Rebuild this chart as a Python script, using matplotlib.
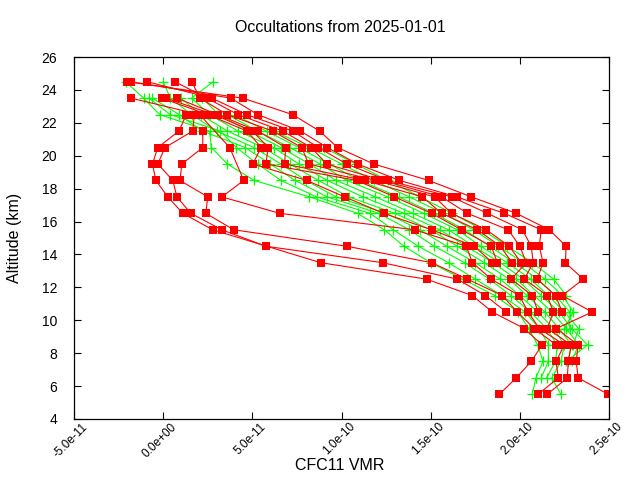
import numpy as np
import matplotlib
matplotlib.use('Agg')
import matplotlib.pyplot as plt
import matplotlib.transforms as mtransforms

nan = float('nan')

# altitude levels (km), same for every profile
alts = [24.5, 23.5, 22.5, 21.5, 20.5, 19.5, 18.5, 17.5, 16.5, 15.5,
        14.5, 13.5, 12.5, 11.5, 10.5, 9.5, 8.5, 7.5, 6.5, 5.5]

# red profiles, VMR in units of 1e-11
red_m1 = [-2.03, 4.46, 7.26, 8.77, 9.78, 11.8, 14.88, 17.28, 19.8, 21.65,
          22.6, 22.55, 23.56, 22.38, 24.06, 22.04, 23.27, 23.16, 23.27, 24.96]
red_m2 = [-1.81, 3.79, 5.3, 7.7, 9.2, 10.9, 13.25, 16.45, 19.13, 21.2,
          21.09, 21.3, 20.98, 22.0, 22.38, nan, nan, nan, nan, nan]
red_m3 = [-0.91, 2.73, 4.69, 7.26, 8.7, 10.29, 12.58, 16.17, 18.18, 20.14,
          20.64, 20.75, 20.25, 21.54, 21.88, 21.54, 22.88, 22.72, 22.66, 21.54]
red_m4 = [0.66, 2.45, 4.2, 6.7, 8.3, 9.17, 12.3, 15.61, 17.06, 19.35,
          20.0, 20.36, 19.52, 20.7, 21.03, nan, nan, nan, nan, nan]
red_m5 = [1.61, 2.05, 3.6, 6.14, 7.77, 8.16, 11.9, 15.22, 16.17, 18.12,
          19.4, 20.08, nan, nan, nan, nan, nan, nan, nan, nan]
red_m6 = [nan, 0.77, 3.06, 5.3, 6.87, 6.81, 11.3, 14.54, 15.61, 17.62,
          18.9, 19.57, nan, nan, nan, nan, nan, nan, nan, nan]
red_m7 = [nan, 0.15, 2.85, 5.0, 5.9, 5.75, 10.85, 12.97, 15.05, 16.73,
          18.4, 18.74, nan, nan, nan, nan, nan, nan, nan, nan]
red_m8 = [nan, -0.07, 2.5, 4.7, 5.5, 5.02, 8.05, 10.17, 12.36, 15.05,
          17.45, 18.46, nan, nan, nan, nan, nan, nan, nan, nan]
red_a = [nan, nan, 1.3, 0.88, -0.3, -0.6, -0.41, 0.26, 1.1, 2.78,
         nan, 8.83, 14.77, 17.34, 18.46, 20.25, 21.25, 20.64, 19.8, 18.85]
red_b = [nan, nan, 1.75, 1.66, 0.1, -0.3, 0.54, 0.77, 1.55, 3.29,
         5.75, 12.3, 16.5, 18.07, 19.24, nan, nan, nan, nan, nan]
red_c = [nan, nan, nan, 2.22, 2.22, 1.05, 0.94, 2.5, 2.39, 3.96,
         10.29, 15.05, 17.06, 19.02, 19.86, 20.81, 22.04, nan, nan, nan]
red_d = [nan, -1.81, 2.05, nan, 3.73, nan, 4.52, 3.29, 6.53, 14.1,
         17.0, 17.34, 18.4, 19.97, 20.47, 21.09, 22.49, 22.04, 22.15, 21.03]

# green profiles, VMR in units of 1e-11
green_1 = [-2.1, -1.1, -0.2, 2.6, 2.7, 3.6, 5.1, 8.2, 10.9, 12.4,
           13.5, 15.0, 16.8, 18.6, 19.9, 20.5, 21.0, 21.3, 20.9, 20.7]
green_2 = [nan, -0.8, 0.4, 3.2, 4.1, 5.3, 6.6, 8.6, 11.6, 12.9,
           14.3, 16.0, 17.5, 19.0, 20.3, 21.1, 21.6, 21.6, 21.2, nan]
green_3 = [nan, -0.6, 0.9, 2.2, 4.6, 6.0, 7.4, 9.2, 12.1, 13.8,
           15.2, 16.9, 18.3, 19.5, 20.6, 21.5, 22.1, 22.0, 21.5, nan]
green_4 = [0.0, 0.4, 1.6, 3.0, 5.1, 6.6, 8.0, 9.7, 12.5, 14.4,
           15.9, 17.5, 18.9, 20.0, 21.0, 21.9, 22.5, 22.3, 21.8, 22.3]
green_5 = [nan, 1.0, 2.1, 3.6, 5.6, 7.1, 8.7, 10.4, 13.0, 15.0,
           16.5, 18.0, 19.4, 20.4, 21.4, 22.2, 22.9, 22.7, nan, nan]
green_6 = [2.8, 1.6, 2.6, 4.2, 6.2, 7.6, 9.2, 11.2, 13.5, 15.5,
           17.0, 18.5, 19.8, 20.8, 21.8, 22.6, 23.3, 22.9, nan, nan]
green_7 = [nan, 2.2, 3.1, 4.8, 6.6, 8.2, 9.7, 11.9, 14.0, 16.0,
           17.4, 18.9, 20.2, 21.2, 22.2, 22.9, 23.8, 22.6, nan, nan]
green_8 = [nan, nan, 3.6, 5.3, 7.1, 8.8, 10.3, 12.6, 14.6, 16.5,
           17.8, 19.3, 20.6, 21.6, 22.5, 23.3, 23.0, nan, nan, nan]
green_9 = [nan, nan, 4.0, 5.8, 7.6, 9.3, 11.0, 13.2, 15.2, 16.9,
           18.3, 19.7, 21.0, 22.0, 22.8, 22.8, nan, nan, nan, nan]
green_10 = [nan, nan, nan, 6.2, 8.2, 10.0, 11.8, 13.8, 15.7, 17.4,
            18.8, 20.2, 21.4, 22.4, 23.0, 22.5, nan, nan, nan, nan]
green_11 = [nan, nan, nan, nan, 9.0, 10.8, 12.6, 14.4, 16.2, 17.9,
            19.3, 20.7, 21.9, 22.6, nan, nan, nan, nan, nan, nan]

red_profiles = [red_m1, red_m2, red_m3, red_m4, red_m5, red_m6, red_m7,
                red_m8, red_a, red_b, red_c, red_d]
green_profiles = [green_1, green_2, green_3, green_4, green_5, green_6,
                  green_7, green_8, green_9, green_10, green_11]

xticks = [-5e-11, 0, 5e-11, 1e-10, 1.5e-10, 2e-10, 2.5e-10]
yticks = [4, 6, 8, 10, 12, 14, 16, 18, 20, 22, 24, 26]

plt.rcParams['font.family'] = ['Liberation Sans', 'DejaVu Sans']

fig, ax = plt.subplots(figsize=(6.4, 4.8), dpi=100)
fig.subplots_adjust(left=74/640, right=609/640, bottom=1-419/480, top=1-57/480)

alt = np.array(alts)
for prof in green_profiles:
    x = np.array(prof) * 1e-11
    m = ~np.isnan(x)
    ax.plot(x[m], alt[m], color='#00ff00', lw=0.8, marker='+', ms=7.5, mew=0.9)
for prof in red_profiles:
    x = np.array(prof) * 1e-11
    m = ~np.isnan(x)
    ax.plot(x[m], alt[m], color='#ff0000', lw=0.8, marker='s', ms=5.5, mew=0)

ax.set_xlim(-5e-11, 2.5e-10)
ax.set_ylim(4, 26)
ax.set_xticks(xticks)
ax.set_yticks(yticks)
ax.set_xticklabels(['%.1e' % v for v in xticks], rotation=45, ha='right',
                   va='center', rotation_mode='anchor', fontsize=8.5)
ax.set_yticklabels([str(v) for v in yticks], fontsize=10)
ax.tick_params(direction='in', length=5, top=True, right=True, width=0.8)
ax.tick_params(axis='y', pad=12)
ax.tick_params(axis='x', pad=0)
# gnuplot style: right end of the rotated label sits right of the tick
offset = mtransforms.ScaledTranslation(12/100, -6/100, fig.dpi_scale_trans)
for lab in ax.get_xticklabels():
    lab.set_transform(lab.get_transform() + offset)
for s in ax.spines.values():
    s.set_linewidth(0.9)

fig.text(340/640, 1-27/480, 'Occultations from 2025-01-01', ha='center',
         va='center', fontsize=11.5)
fig.text(15/640, 1-238/480, 'Altitude (km)', rotation=90, ha='center',
         va='center', fontsize=11.5)
fig.text(340/640, 1-465/480, 'CFC11 VMR', ha='center', va='center',
         fontsize=11.5)

fig.savefig('out.png', dpi=100)
